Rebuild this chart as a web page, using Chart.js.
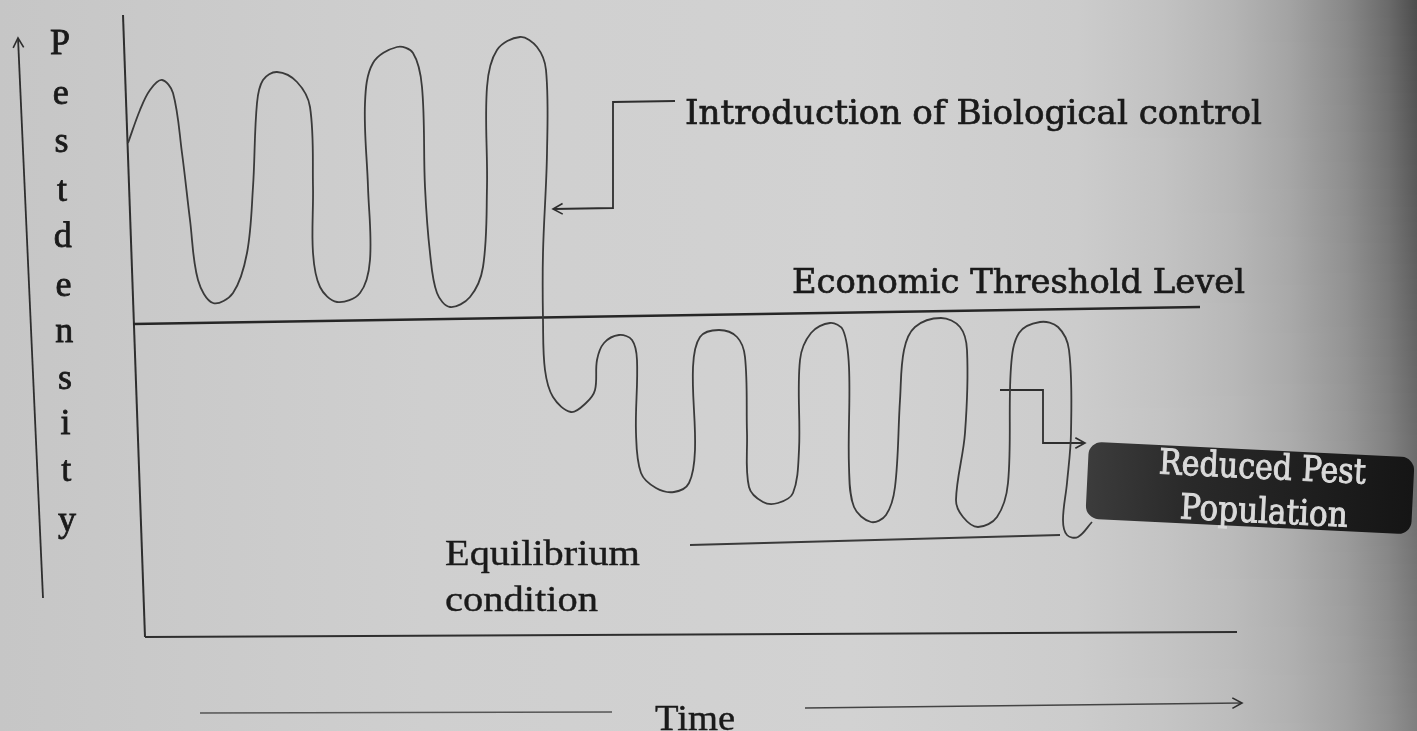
<!DOCTYPE html>
<html>
<head>
<meta charset="utf-8">
<script src="https://cdn.jsdelivr.net/npm/chart.js@4.4.1/dist/chart.umd.min.js"></script>
<style>
  html, body { margin: 0; padding: 0; background: #cdcdcd; overflow: hidden; }
  canvas { display: block; }
</style>
</head>
<body>
<canvas id="pestChart" width="1417" height="731"></canvas>
<script>
// time (x) and pest density (y), 1 unit = 10 px
const curveTime = [-1.7, -0.5, 0.5, 1.7, 2.8, 3.7, 4.5, 5.3, 6.8, 8.8, 10.2, 10.8, 11.2, 11.8, 13.2, 15.2, 16.5, 16.8, 16.8, 17.5,
  19.2, 21.5, 22.5, 22.3, 22.0, 22.8, 25.2, 26.8, 27.7, 28.0, 28.5, 29.2, 30.5, 32.5, 33.8, 34.2, 34.2, 35.2, 37.5, 39.2,
  40.1, 40.2, 39.8, 39.8, 40.0, 40.8, 42.6, 44.1, 45.0, 45.2, 45.9, 47.4, 48.7, 49.2, 49.1, 49.6, 51.1, 52.9, 54.4, 55.0,
  54.8, 55.5, 57.4, 59.2, 60.0, 60.2, 60.4, 61.8, 63.3, 64.8, 65.4, 65.5, 66.6, 68.5, 69.8, 70.4, 70.4, 70.9, 72.6, 74.1,
  75.0, 75.5, 75.9, 77.0, 79.6, 81.5, 82.2, 82.0, 81.1, 81.8, 83.3, 85.2, 86.3, 86.6, 87.4, 89.5, 91.3, 92.4, 92.6, 92.2,
  91.8, 92.2, 93.3, 94.7];
const curveDensity = [49.4, 52.7, 54.7, 55.7, 54.4, 48.4, 41.7, 35.7, 33.4, 34.4, 38.4, 45.0, 53.4, 55.7, 56.5, 55.5, 53.0, 45.0, 38.4, 35.0,
  33.5, 34.4, 37.7, 45.0, 53.4, 57.4, 59.0, 58.4, 55.0, 45.0, 38.4, 34.4, 33.0, 34.0, 37.0, 45.0, 55.0, 58.7, 60.0, 59.0,
  56.7, 48.4, 38.4, 31.7, 26.7, 24.0, 22.5, 23.4, 24.7, 27.7, 29.4, 30.2, 29.7, 27.7, 20.4, 16.4, 14.9, 14.5, 15.4, 18.7,
  27.0, 30.0, 30.7, 30.0, 28.0, 20.4, 15.0, 13.5, 13.4, 14.4, 18.7, 27.7, 30.4, 31.4, 30.7, 27.0, 17.0, 13.0, 11.5, 12.2,
  15.0, 23.7, 28.7, 31.0, 31.9, 31.0, 28.7, 20.4, 13.7, 12.0, 11.0, 12.0, 15.4, 27.0, 30.4, 31.5, 31.0, 28.7, 20.4, 15.4,
  11.7, 10.2, 10.0, 11.5];

const thresholdTime = [-1.2, 105.5];
const thresholdDensity = [31.3, 33.0];
const equilibriumTime = [54.5, 91.5];
const equilibriumDensity = [9.2, 10.2];

// hand drawn frame and arrows
const axisYTime = [-2.2, 0];
const axisYDensity = [62.2, 0];
const axisXTime = [0, 109.2];
const axisXDensity = [0, 0.5];
const sideArrowTime = [-10.2, -12.7];
const sideArrowDensity = [3.9, 59.9];
const introArrowTime = [53.0, 46.8, 46.8, 40.8];
const introArrowDensity = [53.6, 53.5, 42.9, 42.8];
const reducedArrowTime = [85.5, 89.8, 89.8, 94.0];
const reducedArrowDensity = [24.7, 24.7, 19.4, 19.4];
const timeLineLeftTime = [5.5, 46.7];
const timeLineLeftDensity = [-7.6, -7.5];
const timeArrowTime = [66.0, 109.7];
const timeArrowDensity = [-7.1, -6.6];

const yLetters = ['P', 'e', 's', 't', 'd', 'e', 'n', 's', 'i', 't', 'y'];
const yLetterDensity = [59.2, 54.2, 49.4, 44.5, 39.9, 35.0, 30.4, 25.7, 21.2, 16.5, 11.5];

const ink = '#2e2e2e';

function pts(xs, ys) {
  return xs.map((x, i) => ({ x: x, y: ys[i] }));
}

function lineSet(label, xs, ys, width, color, arrow) {
  return {
    label: label,
    data: pts(xs, ys),
    showLine: true,
    borderColor: color || ink,
    borderWidth: width || 2,
    pointRadius: 0,
    tension: 0,
    clip: false,
    arrow: !!arrow
  };
}

// paper photo background: [position, paper grey, shadow amount]
const paperStops = [[0, 198, 0], [0.3, 207, 0], [0.6, 210, 0], [0.76, 204, 0], [0.82, 200, 0.03], [0.87, 198, 0.09],
  [0.91, 196, 0.17], [0.95, 194, 0.3], [0.98, 192, 0.45], [1, 190, 0.6]];

const paperBg = {
  id: 'paperBg',
  beforeDraw(chart) {
    const c = chart.ctx, w = chart.width, h = chart.height;
    c.save();
    const step = 3;
    for (let y = 0; y < h; y += step) {
      const k = 1 - 0.45 * (y / h); // shadow fades towards the bottom
      const g = c.createLinearGradient(0, 0, w, 0);
      paperStops.forEach(s => {
        const v = Math.round(s[1] * (1 - k * s[2]));
        g.addColorStop(s[0], 'rgb(' + v + ',' + v + ',' + v + ')');
      });
      c.fillStyle = g;
      c.fillRect(0, y, w, step);
    }
    c.restore();
  }
};

function fitText(c, text, x, y, width, font, weight) {
  c.font = font;
  const m = c.measureText(text).width;
  c.save();
  c.translate(x, y);
  c.scale(width / m, 1);
  c.fillText(text, 0, 0);
  if (weight) {
    c.lineWidth = weight;
    c.strokeStyle = c.fillStyle;
    c.strokeText(text, 0, 0);
  }
  c.restore();
}

const annotations = {
  id: 'annotations',
  afterDatasetsDraw(chart) {
    const c = chart.ctx;
    const xs = chart.scales.x, ys = chart.scales.y;
    const px = v => xs.getPixelForValue(v);
    const py = v => ys.getPixelForValue(v);
    const unit = px(1) - px(0);

    // open arrow heads at the end of arrow lines
    c.save();
    c.strokeStyle = ink;
    c.lineWidth = 1.6;
    chart.data.datasets.forEach(ds => {
      if (!ds.arrow) return;
      const n = ds.data.length;
      const a = ds.data[n - 2], b = ds.data[n - 1];
      const x1 = px(a.x), y1 = py(a.y), x2 = px(b.x), y2 = py(b.y);
      const ang = Math.atan2(y2 - y1, x2 - x1);
      const len = 11;
      c.beginPath();
      c.moveTo(x2 - len * Math.cos(ang - 0.5), y2 - len * Math.sin(ang - 0.5));
      c.lineTo(x2, y2);
      c.lineTo(x2 - len * Math.cos(ang + 0.5), y2 - len * Math.sin(ang + 0.5));
      c.stroke();
    });
    c.restore();

    c.save();
    c.fillStyle = '#1a1a1a';
    c.textBaseline = 'alphabetic';
    fitText(c, 'Introduction of Biological control', px(54.0), py(51.3), 57.7 * unit, '34px "DejaVu Serif"', 0.7);
    fitText(c, 'Economic Threshold Level', px(64.7), py(34.4), 45.3 * unit, '34px "DejaVu Serif"', 0.7);
    fitText(c, 'Equilibrium', px(30.0), py(7.2), 19.5 * unit, '36px "Liberation Serif"', 0.4);
    fitText(c, 'condition', px(30.0), py(2.6), 15.3 * unit, '36px "Liberation Serif"', 0.4);
    fitText(c, 'Time', px(51.0), py(-9.3), 8.0 * unit, '36px "Liberation Serif"', 0.4);

    // vertical axis title, one letter per line
    c.font = '36px "Liberation Serif"';
    c.textAlign = 'center';
    c.textBaseline = 'middle';
    c.lineWidth = 0.8;
    c.strokeStyle = c.fillStyle;
    yLetters.forEach((ch, i) => {
      const t = i / (yLetters.length - 1);
      c.fillText(ch, px(-8.5 + 0.7 * t), py(yLetterDensity[i]));
      c.strokeText(ch, px(-8.5 + 0.7 * t), py(yLetterDensity[i]));
    });
    c.restore();

    // dark label box
    c.save();
    c.translate(px(110.5), py(14.9));
    c.rotate(2.8 * Math.PI / 180);
    const bw = 32.6 * unit, bh = 7.7 * unit;
    c.beginPath();
    c.roundRect(-bw / 2, -bh / 2, bw, bh, 13);
    const bg = c.createLinearGradient(-bw / 2, 0, bw / 2, 0);
    bg.addColorStop(0, '#3c3c3c');
    bg.addColorStop(0.3, '#2a2a2a');
    bg.addColorStop(1, '#151515');
    c.fillStyle = bg;
    c.fill();
    c.fillStyle = '#dadada';
    c.textAlign = 'left';
    c.textBaseline = 'alphabetic';
    fitText(c, 'Reduced Pest', -9.2 * unit, -1.0 * unit, 20.7 * unit, '35px "DejaVu Serif"', 1.0);
    fitText(c, 'Population', -6.9 * unit, 3.4 * unit, 16.8 * unit, '35px "DejaVu Serif"', 1.0);
    c.restore();
  }
};

const ctx = document.getElementById('pestChart').getContext('2d');

const pestChart = new Chart(ctx, {
  type: 'scatter',
  data: {
    datasets: [
      {
        label: 'Pest population',
        data: pts(curveTime, curveDensity),
        showLine: true,
        borderColor: '#3a3a3a',
        borderWidth: 1.8,
        pointRadius: 0,
        tension: 0.35,
        clip: false
      },
      lineSet('Economic Threshold Level', thresholdTime, thresholdDensity, 2.6, '#262626'),
      lineSet('Equilibrium condition', equilibriumTime, equilibriumDensity, 1.8, '#3a3a3a'),
      lineSet('y axis', axisYTime, axisYDensity, 2),
      lineSet('x axis', axisXTime, axisXDensity, 2),
      lineSet('Pest density arrow', sideArrowTime, sideArrowDensity, 1.8, ink, true),
      lineSet('Introduction arrow', introArrowTime, introArrowDensity, 1.8, ink, true),
      lineSet('Reduced arrow', reducedArrowTime, reducedArrowDensity, 1.8, ink, true),
      lineSet('Time line', timeLineLeftTime, timeLineLeftDensity, 1.6, '#555555'),
      lineSet('Time arrow', timeArrowTime, timeArrowDensity, 1.6, '#444444', true)
    ]
  },
  options: {
    responsive: false,
    animation: false,
    layout: { padding: { left: 145, right: 180, top: 15, bottom: 94 } },
    scales: {
      x: { type: 'linear', min: 0, max: 109.2, display: false },
      y: { type: 'linear', min: 0, max: 62.2, display: false }
    },
    plugins: {
      legend: { display: false },
      title: { display: false },
      tooltip: { enabled: false }
    }
  },
  plugins: [paperBg, annotations]
});
</script>
</body>
</html>
